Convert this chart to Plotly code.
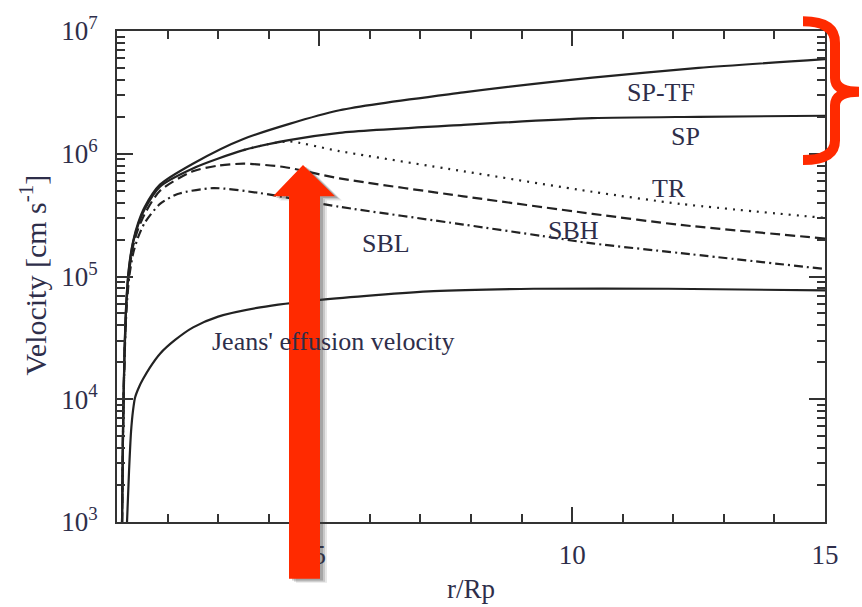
import plotly.graph_objects as go

# ---- data ----
x_sptf = [1.10, 1.12, 1.15, 1.19, 1.24, 1.32, 1.42, 1.55, 1.85, 2.5, 3.5, 5.4, 7.85, 10.4, 12.5, 15]
v_sptf = [1.0e3, 6.0e3, 2.6e4, 6.8e4, 1.22e5, 1.95e5, 2.75e5, 3.7e5, 5.6e5, 8.3e5, 1.32e6, 2.26e6, 3.16e6, 4.17e6, 5.0e6, 5.9e6]

x_sp = [1.10, 1.12, 1.15, 1.19, 1.24, 1.32, 1.42, 1.55, 1.85, 2.5, 3.5, 4.4, 5.4, 7.85, 10.4, 12.5, 15]
v_sp = [1.0e3, 6.0e3, 2.5e4, 6.6e4, 1.18e5, 1.9e5, 2.65e5, 3.55e5, 5.4e5, 7.6e5, 1.07e6, 1.29e6, 1.48e6, 1.72e6, 1.95e6, 2.0e6, 2.04e6]

x_tr = [3.5, 4.0, 4.4, 5.4, 7.85, 10.4, 12.15, 15]
v_tr = [1.07e6, 1.2e6, 1.26e6, 1.05e6, 7.2e5, 4.9e5, 3.9e5, 3.0e5]

x_sbh = [1.10, 1.12, 1.15, 1.19, 1.24, 1.32, 1.42, 1.55, 1.85, 2.5, 3.0, 3.5, 4.3, 5.4, 7.85, 10.4, 12.15, 15]
v_sbh = [1.0e3, 5.8e3, 2.4e4, 6.2e4, 1.1e5, 1.78e5, 2.45e5, 3.25e5, 5.0e5, 7.2e5, 8.0e5, 8.3e5, 7.8e5, 6.3e5, 4.5e5, 3.24e5, 2.63e5, 2.04e5]

x_sbl = [1.10, 1.12, 1.15, 1.19, 1.24, 1.32, 1.42, 1.55, 1.85, 2.2, 2.9, 3.8, 5.4, 7.85, 9.4, 10.4, 12.15, 15]
v_sbl = [1.0e3, 5.5e3, 2.2e4, 5.6e4, 9.8e4, 1.55e5, 2.1e5, 2.75e5, 3.9e5, 4.7e5, 5.25e5, 4.8e5, 3.7e5, 2.65e5, 2.14e5, 1.86e5, 1.55e5, 1.15e5]

x_jeans = [1.198, 1.238, 1.277, 1.317, 1.356, 1.436, 1.515, 1.653, 1.851, 2.149, 2.505, 3.0, 3.83, 5.02, 7.26, 9.24, 11.9, 15]
v_jeans = [1.0e3, 2.6e3, 5.4e3, 8.1e3, 1.03e4, 1.26e4, 1.46e4, 1.82e4, 2.35e4, 3.04e4, 3.85e4, 4.71e4, 5.6e4, 6.45e4, 7.6e4, 7.95e4, 7.95e4, 7.7e4]

y_tick_vals = [1e3, 1e4, 1e5, 1e6, 1e7]
y_tick_text = ["10<sup>3</sup>", "10<sup>4</sup>", "10<sup>5</sup>", "10<sup>6</sup>", "10<sup>7</sup>"]
x_tick_vals = [5, 10, 15]
x_tick_text = ["5", "10", "15"]

labels = ["SP-TF", "SP", "TR", "SBH", "SBL", "Jeans' effusion velocity"]
label_x = [11.75, 12.25, 11.92, 10.02, 6.32, 5.28]
label_y = [6.50, 6.14, 5.72, 5.375, 5.27, 4.47]

# ---- figure ----
LINE = "#222222"
TXT = "#2e2e4a"
FONT = "Liberation Serif"

fig = go.Figure()
series = [
    (x_sptf, v_sptf, "solid"),
    (x_sp, v_sp, "solid"),
    (x_tr, v_tr, "2px,6px"),
    (x_sbh, v_sbh, "10px,5px"),
    (x_sbl, v_sbl, "9px,4px,2px,4px"),
    (x_jeans, v_jeans, "solid"),
]
for xs, vs, dash in series:
    fig.add_trace(go.Scatter(x=xs, y=vs, mode="lines",
                             line=dict(color=LINE, width=2.2, dash=dash, shape="spline", smoothing=0.7),
                             showlegend=False, hoverinfo="skip"))

for t, lx, ly in zip(labels, label_x, label_y):
    fig.add_annotation(x=lx, y=ly, xref="x", yref="y", text=t, showarrow=False,
                       xanchor="center", yanchor="middle",
                       font=dict(family=FONT, size=26, color=TXT))

L, R, T, B = 117, 825, 20, 522
W, H = 862, 607
def px(x):
    return (x - L) / (R - L)
def py(y):
    return (B - y) / (B - T)

fig.add_annotation(x=px(33), y=py(270), xref="paper", yref="paper", text="Velocity [cm s<sup>-1</sup>]",
                   textangle=-90, showarrow=False, xanchor="center", yanchor="middle",
                   font=dict(family=FONT, size=30, color=TXT))
fig.add_annotation(x=px(471), y=py(590), xref="paper", yref="paper", text="r/Rp",
                   showarrow=False, xanchor="center", yanchor="middle",
                   font=dict(family=FONT, size=27, color=TXT))

minor_y = [m * 10 ** e for e in range(3, 7) for m in range(2, 10)]

fig.update_xaxes(range=[1, 15], tickvals=x_tick_vals, ticktext=x_tick_text,
                 ticks="inside", ticklen=15, tickwidth=2, tickcolor="#333",
                 showline=True, linecolor="#333", linewidth=2, mirror="allticks",
                 showgrid=False, zeroline=False,
                 minor=dict(dtick=1, ticks="inside", ticklen=8, tickwidth=2, tickcolor="#333", showgrid=False),
                 tickfont=dict(family=FONT, size=27, color=TXT), ticklabelstandoff=8)
fig.update_yaxes(type="log", range=[3, 7], tickvals=y_tick_vals, ticktext=y_tick_text,
                 ticks="inside", ticklen=16, tickwidth=2, tickcolor="#333",
                 showline=True, linecolor="#333", linewidth=2, mirror="allticks",
                 showgrid=False, zeroline=False,
                 minor=dict(tickvals=minor_y, ticks="inside", ticklen=8, tickwidth=2, tickcolor="#333", showgrid=False),
                 tickfont=dict(family=FONT, size=27, color=TXT), ticklabelstandoff=12)

RED = "#ff2a00"
# arrow shadow + arrow
def arrow_path(dx, dy):
    pts = [(289, 580), (289, 189), (273, 189), (303, 157), (335, 189), (320, 189), (320, 580)]
    return "M " + " L ".join(f"{px(a + dx):.5f},{py(b + dy):.5f}" for a, b in pts) + " Z"

for d, op in [(7, 0.12), (5, 0.18), (3, 0.25)]:
    fig.add_shape(type="path", xref="paper", yref="paper", path=arrow_path(d, d * 0.6),
                  fillcolor="rgba(60,60,60,%.2f)" % op, line=dict(width=0), layer="above")
fig.add_shape(type="path", xref="paper", yref="paper", path=arrow_path(0, 0),
              fillcolor=RED, line=dict(width=0), layer="above")

# brace
bp = [("M", [(803, 10)]), ("Q", [(835, 10), (835, 32)]), ("L", [(835, 68)]),
      ("Q", [(835, 82), (859, 82)]), ("Q", [(835, 82), (835, 96)]), ("L", [(835, 132)]),
      ("Q", [(835, 152), (803, 152)])]
path = " ".join(c + " " + " ".join(f"{px(a):.5f},{py(b):.5f}" for a, b in p) for c, p in bp)
fig.add_shape(type="path", xref="paper", yref="paper", path=path,
              line=dict(color=RED, width=10), layer="above")

fig.update_layout(width=W, height=H, margin=dict(l=L, r=W - R, t=T, b=H - B),
                  plot_bgcolor="white", paper_bgcolor="white")

fig.write_html("out.html")
